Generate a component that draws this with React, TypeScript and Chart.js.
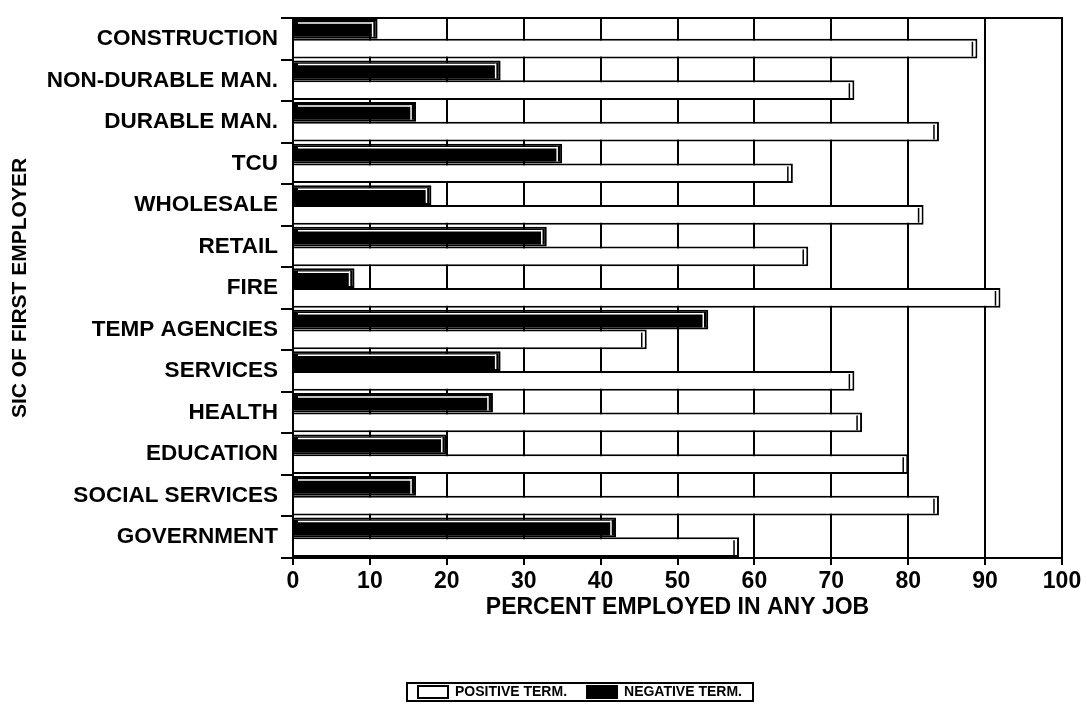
import React, { useEffect, useRef } from "react";
import { Chart, registerables } from "chart.js";

Chart.register(...registerables);

const categories = [
  "CONSTRUCTION",
  "NON-DURABLE MAN.",
  "DURABLE MAN.",
  "TCU",
  "WHOLESALE",
  "RETAIL",
  "FIRE",
  "TEMP AGENCIES",
  "SERVICES",
  "HEALTH",
  "EDUCATION",
  "SOCIAL SERVICES",
  "GOVERNMENT",
];
const negativeTerm = [11, 27, 16, 35, 18, 33, 8, 54, 27, 26, 20, 16, 42];
const positiveTerm = [89, 73, 84, 65, 82, 67, 92, 46, 73, 74, 80, 84, 58];
const xTicks = [0, 10, 20, 30, 40, 50, 60, 70, 80, 90, 100];

const FONT = "'Liberation Sans', Arial, Helvetica, sans-serif";

const PLOT_LEFT = 293;
const PLOT_BOTTOM = 558;
const PAD_LEFT = 8;
const PAD_BOTTOM = 14;
const H = 723;
const LEGEND_CENTER_X = 580;

const boxPlugin = {
  id: "plotBox",
  afterUpdate(chart: any) {
    const legend = chart.legend;
    if (!legend) return;
    const dx = LEGEND_CENTER_X - (legend.left + legend.right) / 2;
    legend.left += dx;
    legend.right += dx;
    if (legend.legendHitBoxes) {
      legend.legendHitBoxes.forEach((b: any) => {
        b.left += dx;
      });
    }
  },
  afterDatasetsDraw(chart: any) {
    const { ctx } = chart;
    ctx.save();
    chart.data.datasets.forEach((ds: any, di: number) => {
      const meta = chart.getDatasetMeta(di);
      meta.data.forEach((bar: any) => {
        const { x, y, base, height } = bar.getProps(["x", "y", "base", "height"], true);
        const top = y - height / 2;
        const bot = y + height / 2;
        const dark = ds.backgroundColor === "#000000";
        ctx.strokeStyle = dark ? "#ffffff" : "#000000";
        ctx.lineWidth = 1.5;
        ctx.beginPath();
        ctx.moveTo(x - 5, top + 3);
        ctx.lineTo(x - 5, bot - 2);
        ctx.stroke();
        if (dark) {
          ctx.beginPath();
          ctx.moveTo(base + 4, top + 4);
          ctx.lineTo(x - 5, top + 4);
          ctx.stroke();
        }
      });
    });
    ctx.restore();
  },
  afterDraw(chart: any) {
    const { ctx, chartArea, legend } = chart;
    ctx.save();
    ctx.strokeStyle = "#000";
    ctx.lineWidth = 2;
    ctx.strokeRect(chartArea.left, chartArea.top, chartArea.right - chartArea.left, chartArea.bottom - chartArea.top);
    if (legend && legend.legendHitBoxes && legend.legendHitBoxes.length) {
      let minX = Infinity, maxX = -Infinity, minY = Infinity, maxY = -Infinity;
      legend.legendHitBoxes.forEach((b: any) => {
        minX = Math.min(minX, b.left);
        maxX = Math.max(maxX, b.left + b.width);
        minY = Math.min(minY, b.top);
        maxY = Math.max(maxY, b.top + b.height);
      });
      ctx.lineWidth = 2;
      ctx.strokeRect(minX - 11, minY - 2, maxX - minX + 22, maxY - minY + 4);
    }
    ctx.restore();
  },
};

export default function App() {
  const ref = useRef<HTMLCanvasElement | null>(null);

  useEffect(() => {
    if (!ref.current) return;
    const chart = new Chart(ref.current, {
      type: "bar",
      data: {
        labels: categories,
        datasets: [
          {
            label: "NEGATIVE TERM.",
            data: negativeTerm,
            backgroundColor: "#000000",
            borderColor: "#000000",
            borderWidth: 2,
            categoryPercentage: 0.95,
            barPercentage: 1.0,
          },
          {
            label: "POSITIVE TERM.",
            data: positiveTerm,
            backgroundColor: "#ffffff",
            borderColor: "#000000",
            borderWidth: 2,
            categoryPercentage: 0.95,
            barPercentage: 1.0,
          },
        ],
      },
      options: {
        indexAxis: "y",
        animation: false,
        responsive: true,
        maintainAspectRatio: false,
        layout: { padding: { left: PAD_LEFT, right: 25, top: 18, bottom: PAD_BOTTOM } },
        plugins: {
          tooltip: { enabled: false },
          legend: {
            position: "bottom",
            reverse: true,
            labels: {
              color: "#000",
              font: { family: FONT, size: 14, weight: "bold" },
              boxWidth: 30,
              boxHeight: 12,
              padding: 20,
            },
          },
        },
        scales: {
          x: {
            type: "linear",
            min: 0,
            max: 100,
            afterBuildTicks: (scale: any) => {
              scale.ticks = xTicks.map((v) => ({ value: v }));
            },
            afterFit: (scale: any) => {
              const lh = scale.chart.legend && scale.chart.legend.height ? scale.chart.legend.height : 57;
              scale.height = H - PAD_BOTTOM - lh - PLOT_BOTTOM;
            },
            ticks: {
              color: "#000",
              font: { family: FONT, size: 23, weight: "bold" },
              padding: 3,
              maxRotation: 0,
            },
            grid: { color: "#000", lineWidth: 2, drawTicks: true, tickLength: 7 },
            border: { color: "#000", width: 2 },
            title: {
              display: true,
              text: "PERCENT EMPLOYED IN ANY JOB",
              color: "#000",
              font: { family: FONT, size: 23, weight: "bold" },
              padding: { top: 44, bottom: 44 },
            },
          },
          y: {
            type: "category",
            afterFit: (scale: any) => {
              scale.width = PLOT_LEFT - PAD_LEFT;
            },
            ticks: {
              color: "#000",
              font: { family: FONT, size: 22.5, weight: "bold" },
              padding: 3,
            },
            grid: {
              drawOnChartArea: false,
              drawTicks: true,
              tickLength: 12,
              color: "#000",
              lineWidth: 2,
              offset: true,
            },
            border: { color: "#000", width: 2 },
            title: {
              display: true,
              text: "SIC OF FIRST EMPLOYER",
              color: "#000",
              font: { family: FONT, size: 21, weight: "bold" },
              padding: { top: 0, bottom: 0 },
            },
          },
        },
      },
      plugins: [boxPlugin],
    } as any);
    return () => chart.destroy();
  }, []);

  return (
    <div style={{ position: "fixed", left: 0, top: 0, width: 1087, height: 723, background: "#fff" }}>
      <canvas ref={ref} />
    </div>
  );
}
